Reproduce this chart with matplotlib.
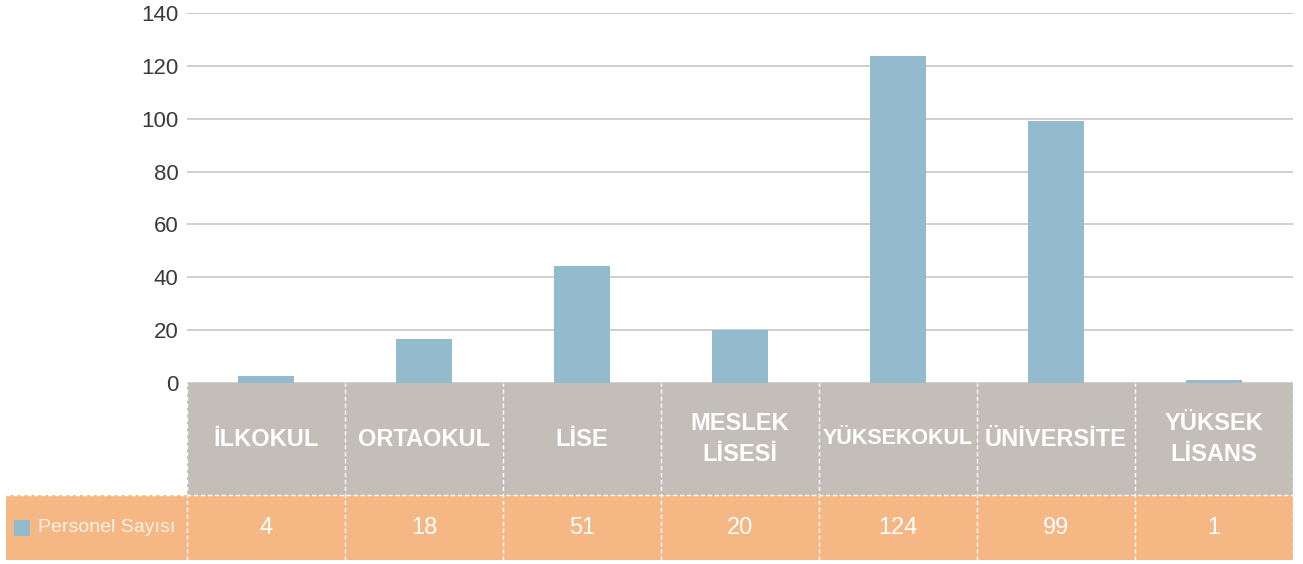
import matplotlib.pyplot as plt
from matplotlib.patches import Rectangle

plt.rcParams['font.family'] = ['Liberation Sans', 'DejaVu Sans']

# veriler
kategoriler = ["İLKOKUL", "ORTAOKUL", "LİSE", "MESLEK\nLİSESİ", "YÜKSEKOKUL",
               "ÜNİVERSİTE", "YÜKSEK\nLİSANS"]
bar_degerleri = [2.5, 16.6, 44.3, 20, 123.6, 99.3, 1.2]   # çubuk yükseklikleri
tablo_degerleri = ["4", "18", "51", "20", "124", "99", "1"]  # tablodaki etiketler
seri_adi = "Personel Sayısı"
y_ticks = [0, 20, 40, 60, 80, 100, 120, 140]

bar_renk = "#93BACD"
gri = "#C3BEB8"
turuncu = "#F5B885"

W, H = 1303, 564
fig = plt.figure(figsize=(W / 100, H / 100), dpi=100)

# ana grafik
ax = fig.add_axes([187 / W, (H - 383) / H, 1106 / W, 370 / H])
n = len(kategoriler)
x = list(range(n))
ax.bar(x, bar_degerleri, width=0.36, color=bar_renk, zorder=3)
ax.set_xlim(-0.5, n - 0.5)
ax.set_ylim(0, 140)
ax.set_yticks(y_ticks)
ax.set_yticklabels([str(t) for t in y_ticks], fontsize=16, color="#3a3a3a")
ax.set_xticks([])
ax.yaxis.grid(True, color="#CCCCCC", linewidth=1.3, zorder=0)
ax.tick_params(axis="y", length=0, pad=6)
for s in ax.spines.values():
    s.set_visible(False)

# tablo
tab = fig.add_axes([187 / W, (H - 560) / H, 1106 / W, 177 / H])
tab.set_xlim(-0.5, n - 0.5)
tab.set_ylim(0, 177)
tab.axis("off")

hucre = 1106 / n  # px
for i in range(n):
    tab.add_patch(Rectangle((i - 0.5, 65), 1, 112, color=gri, lw=0))
    tab.add_patch(Rectangle((i - 0.5, 0), 1, 65, color=turuncu, lw=0))
    fs = 15.5 if kategoriler[i] == "YÜKSEKOKUL" else 17
    tab.text(i, 121, kategoriler[i], ha="center", va="center", color="white",
             fontsize=fs, fontweight="bold", linespacing=1.45)
    tab.text(i, 32, tablo_degerleri[i], ha="center", va="center", color="white",
             fontsize=17)

# lejant hücresi
sol = -0.5 - 181 / hucre
tab.add_patch(Rectangle((sol, 0), 181 / hucre, 65, color=turuncu, lw=0, clip_on=False))
tab.add_patch(Rectangle((sol + 8 / hucre, 24), 16 / hucre, 16, color=bar_renk, lw=0,
                        clip_on=False))
tab.text(sol + 32 / hucre, 32, seri_adi, ha="left", va="center", color="#FDF1E6",
         fontsize=14, clip_on=False)

# kesikli beyaz çizgiler
for i in range(n + 1):
    tab.plot([i - 0.5, i - 0.5], [0, 177], color="white", lw=1, ls=(0, (3, 2)),
             clip_on=False)
tab.plot([sol, n - 0.5], [65, 65], color="white", lw=1, ls=(0, (3, 2)), clip_on=False)

fig.savefig("out.png", dpi=100)
